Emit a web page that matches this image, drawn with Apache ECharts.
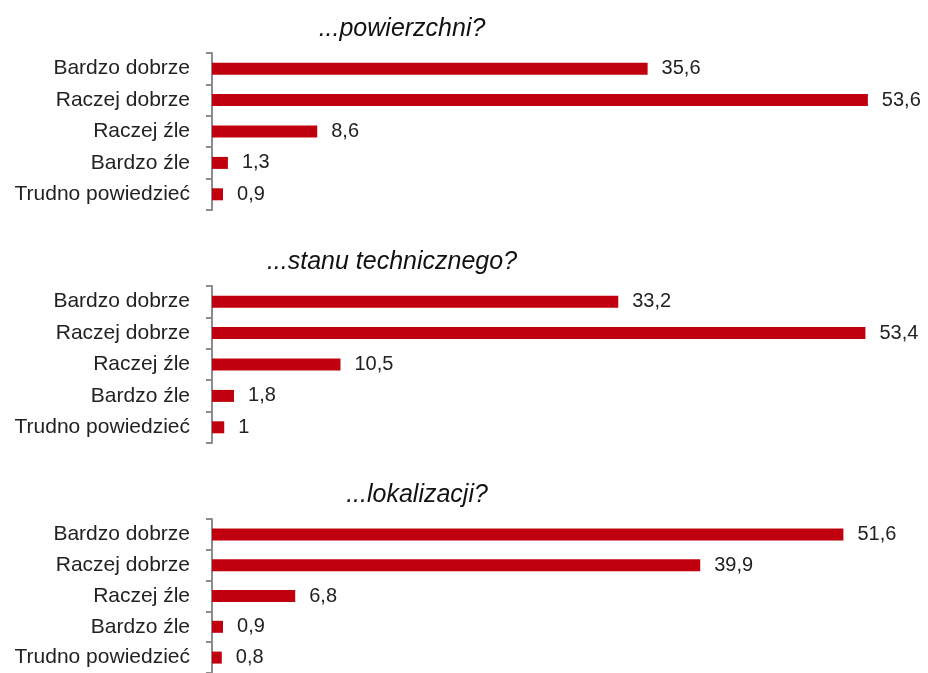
<!DOCTYPE html>
<html>
<head>
<meta charset="utf-8">
<script src="https://cdn.jsdelivr.net/npm/echarts@6/dist/echarts.min.js"></script>
<style>
  html, body { margin: 0; padding: 0; background: #fff; }
  #chart { width: 928px; height: 673px; }
</style>
</head>
<body>
<div id="chart"></div>
<script>
  const categories = ['Bardzo dobrze', 'Raczej dobrze', 'Raczej źle', 'Bardzo źle', 'Trudno powiedzieć'];
  const panelTitles = ['...powierzchni?', '...stanu technicznego?', '...lokalizacji?'];
  const powierzchni = [35.6, 53.6, 8.6, 1.3, 0.9];
  const stanTechniczny = [33.2, 53.4, 10.5, 1.8, 1];
  const lokalizacja = [51.6, 39.9, 6.8, 0.9, 0.8];

  const panels = [powierzchni, stanTechniczny, lokalizacja];
  const gridTops = [53, 286, 519];
  const titleX = [397, 387, 412];
  const font = 'Liberation Sans';

  const chart = echarts.init(document.getElementById('chart'));

  const fmt = v => String(v).replace('.', ',');

  const option = {
    animation: false,
    title: panelTitles.map((t, i) => ({
      text: t,
      left: titleX[i],
      top: gridTops[i] - 41,
      textAlign: 'center',
      textStyle: { fontFamily: font, fontStyle: 'italic', fontWeight: 'normal', fontSize: 25, color: '#111' }
    })),
    grid: gridTops.map(top => ({ left: 212, width: 673, top: top, height: 157 })),
    xAxis: panels.map((_, i) => ({
      type: 'value', gridIndex: i, min: 0, max: 55, show: false
    })),
    yAxis: panels.map((_, i) => ({
      type: 'category', gridIndex: i, data: categories, inverse: true,
      axisLine: { show: true, lineStyle: { color: '#8c8c8c', width: 2 } },
      axisTick: { show: true, length: 6, lineStyle: { color: '#8c8c8c', width: 2 } },
      axisLabel: { fontFamily: font, fontSize: 21, color: '#222', margin: 22 }
    })),
    series: panels.map((data, i) => ({
      type: 'bar', xAxisIndex: i, yAxisIndex: i, data: data,
      barWidth: 12,
      itemStyle: { color: '#C0000F' },
      label: {
        show: true, position: 'right', distance: 14,
        fontFamily: font, fontSize: 20, color: '#222',
        formatter: p => fmt(p.value)
      }
    }))
  };

  chart.setOption(option);
</script>
</body>
</html>
